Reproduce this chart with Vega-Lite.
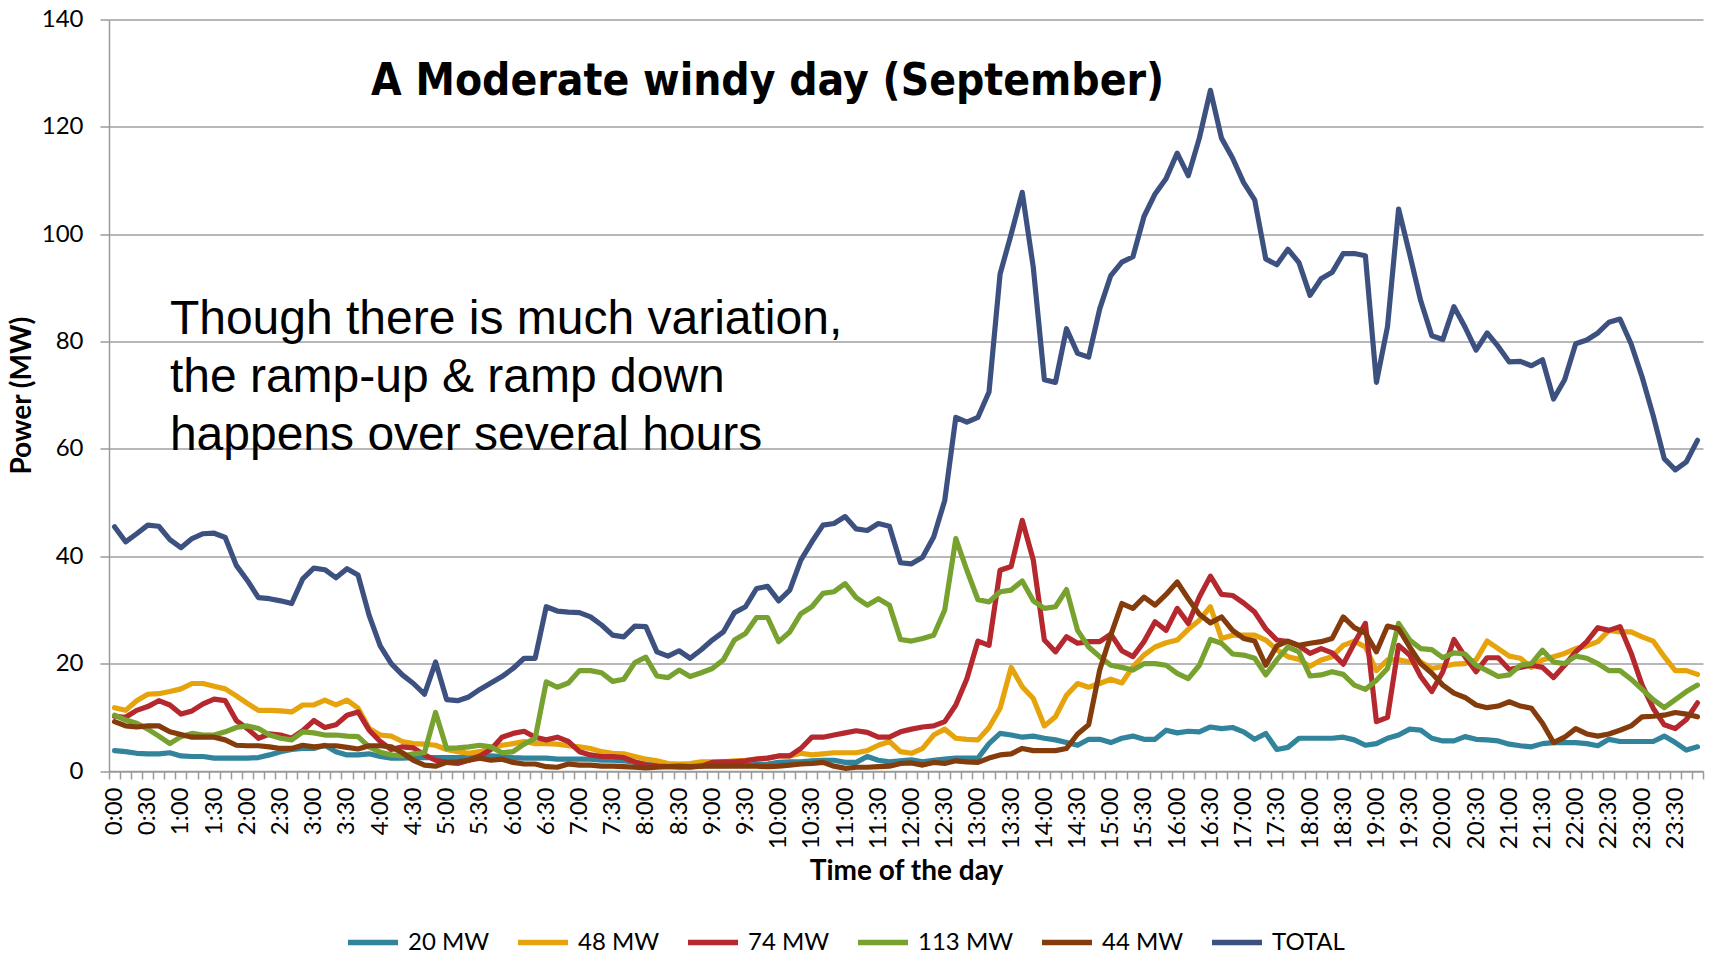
{
  "$schema": "https://vega.github.io/schema/vega-lite/v6.json",
  "width": 1594,
  "height": 751.5,
  "autosize": {"type": "none"},
  "padding": {"left": 109, "top": 19.5, "right": 11, "bottom": 184},
  "background": "white",
  "config": {"view": {"stroke": null}},
  "data": {"name": "main", "values": [
    {"time":"0:00","20 MW":3.8,"48 MW":11.8,"74 MW":10.2,"113 MW":10.4,"44 MW":9.2,"TOTAL":45.5},
    {"time":"0:10","20 MW":3.6,"48 MW":11.3,"74 MW":10.0,"113 MW":9.5,"44 MW":8.4,"TOTAL":42.7},
    {"time":"0:20","20 MW":3.3,"48 MW":13.1,"74 MW":11.3,"113 MW":8.9,"44 MW":8.2,"TOTAL":44.2},
    {"time":"0:30","20 MW":3.2,"48 MW":14.3,"74 MW":12.0,"113 MW":7.8,"44 MW":8.4,"TOTAL":45.8},
    {"time":"0:40","20 MW":3.2,"48 MW":14.4,"74 MW":13.1,"113 MW":6.5,"44 MW":8.4,"TOTAL":45.6},
    {"time":"0:50","20 MW":3.4,"48 MW":14.8,"74 MW":12.3,"113 MW":5.1,"44 MW":7.3,"TOTAL":43.1},
    {"time":"1:00","20 MW":2.8,"48 MW":15.3,"74 MW":10.6,"113 MW":6.4,"44 MW":6.8,"TOTAL":41.6},
    {"time":"1:10","20 MW":2.7,"48 MW":16.3,"74 MW":11.2,"113 MW":7.0,"44 MW":6.3,"TOTAL":43.3},
    {"time":"1:20","20 MW":2.7,"48 MW":16.3,"74 MW":12.5,"113 MW":6.7,"44 MW":6.3,"TOTAL":44.2},
    {"time":"1:30","20 MW":2.4,"48 MW":15.8,"74 MW":13.4,"113 MW":6.7,"44 MW":6.3,"TOTAL":44.3},
    {"time":"1:40","20 MW":2.4,"48 MW":15.3,"74 MW":13.1,"113 MW":7.3,"44 MW":5.8,"TOTAL":43.5},
    {"time":"1:50","20 MW":2.4,"48 MW":14.0,"74 MW":9.4,"113 MW":8.1,"44 MW":4.8,"TOTAL":38.3},
    {"time":"2:00","20 MW":2.4,"48 MW":12.6,"74 MW":7.9,"113 MW":8.4,"44 MW":4.7,"TOTAL":35.5},
    {"time":"2:10","20 MW":2.5,"48 MW":11.3,"74 MW":6.1,"113 MW":7.9,"44 MW":4.7,"TOTAL":32.3},
    {"time":"2:20","20 MW":3.0,"48 MW":11.3,"74 MW":6.9,"113 MW":6.7,"44 MW":4.5,"TOTAL":32.1},
    {"time":"2:30","20 MW":3.6,"48 MW":11.2,"74 MW":6.7,"113 MW":6.1,"44 MW":4.2,"TOTAL":31.7},
    {"time":"2:40","20 MW":4.0,"48 MW":11.0,"74 MW":6.1,"113 MW":5.8,"44 MW":4.2,"TOTAL":31.2},
    {"time":"2:50","20 MW":4.2,"48 MW":12.3,"74 MW":7.5,"113 MW":7.3,"44 MW":4.8,"TOTAL":35.8},
    {"time":"3:00","20 MW":4.2,"48 MW":12.3,"74 MW":9.4,"113 MW":7.1,"44 MW":4.5,"TOTAL":37.8},
    {"time":"3:10","20 MW":4.8,"48 MW":13.2,"74 MW":8.1,"113 MW":6.7,"44 MW":4.7,"TOTAL":37.5},
    {"time":"3:20","20 MW":3.6,"48 MW":12.3,"74 MW":8.6,"113 MW":6.7,"44 MW":4.7,"TOTAL":36.0},
    {"time":"3:30","20 MW":3.0,"48 MW":13.2,"74 MW":10.4,"113 MW":6.5,"44 MW":4.4,"TOTAL":37.7},
    {"time":"3:40","20 MW":3.0,"48 MW":11.7,"74 MW":11.0,"113 MW":6.4,"44 MW":4.1,"TOTAL":36.5},
    {"time":"3:50","20 MW":3.2,"48 MW":7.9,"74 MW":7.6,"113 MW":4.5,"44 MW":4.7,"TOTAL":29.0},
    {"time":"4:00","20 MW":2.7,"48 MW":6.7,"74 MW":5.5,"113 MW":3.5,"44 MW":4.7,"TOTAL":23.3},
    {"time":"4:10","20 MW":2.4,"48 MW":6.5,"74 MW":4.0,"113 MW":3.0,"44 MW":4.5,"TOTAL":20.0},
    {"time":"4:20","20 MW":2.4,"48 MW":5.5,"74 MW":4.5,"113 MW":2.8,"44 MW":3.4,"TOTAL":17.9},
    {"time":"4:30","20 MW":2.5,"48 MW":5.1,"74 MW":4.3,"113 MW":3.2,"44 MW":2.0,"TOTAL":16.3},
    {"time":"4:40","20 MW":2.5,"48 MW":5.0,"74 MW":3.0,"113 MW":3.4,"44 MW":1.1,"TOTAL":14.3},
    {"time":"4:50","20 MW":2.5,"48 MW":4.8,"74 MW":2.0,"113 MW":10.9,"44 MW":0.9,"TOTAL":20.3},
    {"time":"5:00","20 MW":2.5,"48 MW":4.0,"74 MW":1.6,"113 MW":4.2,"44 MW":1.6,"TOTAL":13.3},
    {"time":"5:10","20 MW":2.5,"48 MW":3.6,"74 MW":1.4,"113 MW":4.3,"44 MW":1.7,"TOTAL":13.1},
    {"time":"5:20","20 MW":2.7,"48 MW":3.3,"74 MW":2.0,"113 MW":4.5,"44 MW":2.0,"TOTAL":13.8},
    {"time":"5:30","20 MW":2.7,"48 MW":3.6,"74 MW":2.8,"113 MW":4.8,"44 MW":2.4,"TOTAL":15.2},
    {"time":"5:40","20 MW":2.8,"48 MW":4.2,"74 MW":4.0,"113 MW":4.5,"44 MW":2.0,"TOTAL":16.4},
    {"time":"5:50","20 MW":2.7,"48 MW":4.8,"74 MW":6.3,"113 MW":3.4,"44 MW":2.2,"TOTAL":17.6},
    {"time":"6:00","20 MW":2.5,"48 MW":5.1,"74 MW":7.0,"113 MW":3.6,"44 MW":1.6,"TOTAL":19.1},
    {"time":"6:10","20 MW":2.4,"48 MW":5.5,"74 MW":7.4,"113 MW":5.0,"44 MW":1.3,"TOTAL":21.0},
    {"time":"6:20","20 MW":2.4,"48 MW":5.1,"74 MW":6.3,"113 MW":6.1,"44 MW":1.3,"TOTAL":21.0},
    {"time":"6:30","20 MW":2.4,"48 MW":5.1,"74 MW":5.8,"113 MW":16.6,"44 MW":0.8,"TOTAL":30.6},
    {"time":"6:40","20 MW":2.2,"48 MW":5.0,"74 MW":6.3,"113 MW":15.6,"44 MW":0.7,"TOTAL":29.8},
    {"time":"6:50","20 MW":2.2,"48 MW":4.7,"74 MW":5.5,"113 MW":16.4,"44 MW":1.3,"TOTAL":29.6},
    {"time":"7:00","20 MW":2.2,"48 MW":4.5,"74 MW":3.6,"113 MW":18.7,"44 MW":1.1,"TOTAL":29.5},
    {"time":"7:10","20 MW":2.2,"48 MW":4.2,"74 MW":3.0,"113 MW":18.7,"44 MW":1.1,"TOTAL":28.7},
    {"time":"7:20","20 MW":2.0,"48 MW":3.6,"74 MW":2.7,"113 MW":18.3,"44 MW":0.9,"TOTAL":27.2},
    {"time":"7:30","20 MW":2.0,"48 MW":3.3,"74 MW":2.7,"113 MW":16.7,"44 MW":0.9,"TOTAL":25.3},
    {"time":"7:40","20 MW":1.9,"48 MW":3.2,"74 MW":2.5,"113 MW":17.1,"44 MW":0.8,"TOTAL":25.0},
    {"time":"7:50","20 MW":1.6,"48 MW":2.7,"74 MW":1.7,"113 MW":20.2,"44 MW":0.7,"TOTAL":27.0},
    {"time":"8:00","20 MW":1.3,"48 MW":2.2,"74 MW":1.1,"113 MW":21.2,"44 MW":0.6,"TOTAL":26.9},
    {"time":"8:10","20 MW":1.2,"48 MW":1.9,"74 MW":0.9,"113 MW":17.7,"44 MW":0.7,"TOTAL":22.2},
    {"time":"8:20","20 MW":1.1,"48 MW":1.4,"74 MW":0.8,"113 MW":17.4,"44 MW":0.8,"TOTAL":21.4},
    {"time":"8:30","20 MW":1.1,"48 MW":1.3,"74 MW":0.7,"113 MW":18.8,"44 MW":0.9,"TOTAL":22.4},
    {"time":"8:40","20 MW":1.0,"48 MW":1.4,"74 MW":0.7,"113 MW":17.6,"44 MW":0.8,"TOTAL":21.0},
    {"time":"8:50","20 MW":1.0,"48 MW":1.7,"74 MW":0.9,"113 MW":18.3,"44 MW":0.9,"TOTAL":22.6},
    {"time":"9:00","20 MW":1.0,"48 MW":1.7,"74 MW":1.6,"113 MW":19.1,"44 MW":0.9,"TOTAL":24.4},
    {"time":"9:10","20 MW":1.0,"48 MW":1.7,"74 MW":1.7,"113 MW":20.7,"44 MW":0.9,"TOTAL":25.9},
    {"time":"9:20","20 MW":1.1,"48 MW":1.9,"74 MW":1.7,"113 MW":24.4,"44 MW":0.9,"TOTAL":29.5},
    {"time":"9:30","20 MW":1.1,"48 MW":2.0,"74 MW":1.9,"113 MW":25.6,"44 MW":0.9,"TOTAL":30.6},
    {"time":"9:40","20 MW":1.2,"48 MW":2.2,"74 MW":2.2,"113 MW":28.6,"44 MW":0.9,"TOTAL":34.0},
    {"time":"9:50","20 MW":1.3,"48 MW":2.4,"74 MW":2.4,"113 MW":28.6,"44 MW":0.8,"TOTAL":34.4},
    {"time":"10:00","20 MW":1.6,"48 MW":2.8,"74 MW":2.8,"113 MW":24.1,"44 MW":0.9,"TOTAL":31.7},
    {"time":"10:10","20 MW":1.7,"48 MW":2.8,"74 MW":2.8,"113 MW":25.9,"44 MW":1.1,"TOTAL":33.7},
    {"time":"10:20","20 MW":1.7,"48 MW":3.3,"74 MW":4.2,"113 MW":29.3,"44 MW":1.3,"TOTAL":39.3},
    {"time":"10:30","20 MW":1.9,"48 MW":3.0,"74 MW":6.3,"113 MW":30.6,"44 MW":1.4,"TOTAL":42.7},
    {"time":"10:40","20 MW":2.0,"48 MW":3.2,"74 MW":6.3,"113 MW":33.1,"44 MW":1.6,"TOTAL":45.8},
    {"time":"10:50","20 MW":2.0,"48 MW":3.4,"74 MW":6.7,"113 MW":33.4,"44 MW":0.9,"TOTAL":46.1},
    {"time":"11:00","20 MW":1.6,"48 MW":3.4,"74 MW":7.1,"113 MW":34.9,"44 MW":0.5,"TOTAL":47.4},
    {"time":"11:10","20 MW":1.6,"48 MW":3.4,"74 MW":7.5,"113 MW":32.3,"44 MW":0.7,"TOTAL":45.1},
    {"time":"11:20","20 MW":2.7,"48 MW":3.8,"74 MW":7.2,"113 MW":30.9,"44 MW":0.7,"TOTAL":44.8},
    {"time":"11:30","20 MW":2.0,"48 MW":4.8,"74 MW":6.3,"113 MW":32.1,"44 MW":0.8,"TOTAL":46.1},
    {"time":"11:40","20 MW":1.7,"48 MW":5.5,"74 MW":6.3,"113 MW":30.9,"44 MW":0.9,"TOTAL":45.6},
    {"time":"11:50","20 MW":1.9,"48 MW":3.6,"74 MW":7.3,"113 MW":24.5,"44 MW":1.4,"TOTAL":38.8},
    {"time":"12:00","20 MW":2.1,"48 MW":3.3,"74 MW":7.8,"113 MW":24.2,"44 MW":1.5,"TOTAL":38.6},
    {"time":"12:10","20 MW":1.7,"48 MW":4.2,"74 MW":8.2,"113 MW":24.7,"44 MW":1.1,"TOTAL":39.8},
    {"time":"12:20","20 MW":2.0,"48 MW":6.7,"74 MW":8.4,"113 MW":25.3,"44 MW":1.6,"TOTAL":43.6},
    {"time":"12:30","20 MW":2.2,"48 MW":7.8,"74 MW":9.2,"113 MW":30.0,"44 MW":1.4,"TOTAL":50.4},
    {"time":"12:40","20 MW":2.4,"48 MW":6.1,"74 MW":12.3,"113 MW":43.3,"44 MW":1.9,"TOTAL":65.9},
    {"time":"12:50","20 MW":2.4,"48 MW":5.9,"74 MW":17.2,"113 MW":37.4,"44 MW":1.7,"TOTAL":65.0},
    {"time":"13:00","20 MW":2.4,"48 MW":5.8,"74 MW":24.2,"113 MW":31.9,"44 MW":1.6,"TOTAL":65.9},
    {"time":"13:10","20 MW":5.1,"48 MW":8.1,"74 MW":23.4,"113 MW":31.5,"44 MW":2.4,"TOTAL":70.6},
    {"time":"13:20","20 MW":7.0,"48 MW":11.7,"74 MW":37.4,"113 MW":33.4,"44 MW":3.0,"TOTAL":92.6},
    {"time":"13:30","20 MW":6.7,"48 MW":19.3,"74 MW":38.1,"113 MW":33.7,"44 MW":3.2,"TOTAL":100.0},
    {"time":"13:40","20 MW":6.3,"48 MW":15.7,"74 MW":46.7,"113 MW":35.4,"44 MW":4.2,"TOTAL":107.8},
    {"time":"13:50","20 MW":6.5,"48 MW":13.5,"74 MW":39.3,"113 MW":31.7,"44 MW":3.8,"TOTAL":93.8},
    {"time":"14:00","20 MW":6.1,"48 MW":8.4,"74 MW":24.4,"113 MW":30.3,"44 MW":3.8,"TOTAL":72.9},
    {"time":"14:10","20 MW":5.8,"48 MW":10.1,"74 MW":22.2,"113 MW":30.6,"44 MW":3.8,"TOTAL":72.4},
    {"time":"14:20","20 MW":5.3,"48 MW":14.1,"74 MW":25.0,"113 MW":33.8,"44 MW":4.2,"TOTAL":82.4},
    {"time":"14:30","20 MW":4.8,"48 MW":16.3,"74 MW":23.8,"113 MW":26.2,"44 MW":6.9,"TOTAL":77.8},
    {"time":"14:40","20 MW":5.9,"48 MW":15.6,"74 MW":24.1,"113 MW":23.1,"44 MW":8.6,"TOTAL":77.1},
    {"time":"14:50","20 MW":5.9,"48 MW":16.3,"74 MW":24.1,"113 MW":21.3,"44 MW":18.8,"TOTAL":86.1},
    {"time":"15:00","20 MW":5.3,"48 MW":17.1,"74 MW":25.5,"113 MW":19.7,"44 MW":25.3,"TOTAL":92.3},
    {"time":"15:10","20 MW":6.1,"48 MW":16.4,"74 MW":22.4,"113 MW":19.3,"44 MW":31.2,"TOTAL":94.8},
    {"time":"15:20","20 MW":6.5,"48 MW":19.4,"74 MW":21.3,"113 MW":18.8,"44 MW":30.3,"TOTAL":95.8},
    {"time":"15:30","20 MW":5.9,"48 MW":21.6,"74 MW":24.1,"113 MW":20.0,"44 MW":32.4,"TOTAL":103.3},
    {"time":"15:40","20 MW":5.9,"48 MW":23.1,"74 MW":27.8,"113 MW":20.0,"44 MW":30.9,"TOTAL":107.5},
    {"time":"15:50","20 MW":7.6,"48 MW":23.9,"74 MW":26.2,"113 MW":19.7,"44 MW":32.9,"TOTAL":110.4},
    {"time":"16:00","20 MW":7.1,"48 MW":24.4,"74 MW":30.3,"113 MW":18.2,"44 MW":35.2,"TOTAL":115.1},
    {"time":"16:10","20 MW":7.4,"48 MW":26.4,"74 MW":27.5,"113 MW":17.2,"44 MW":32.1,"TOTAL":110.9},
    {"time":"16:20","20 MW":7.3,"48 MW":28.1,"74 MW":32.4,"113 MW":19.7,"44 MW":29.2,"TOTAL":117.9},
    {"time":"16:30","20 MW":8.2,"48 MW":30.6,"74 MW":36.3,"113 MW":24.5,"44 MW":27.6,"TOTAL":126.8},
    {"time":"16:40","20 MW":7.9,"48 MW":24.7,"74 MW":32.9,"113 MW":23.8,"44 MW":28.7,"TOTAL":117.9},
    {"time":"16:50","20 MW":8.1,"48 MW":25.3,"74 MW":32.7,"113 MW":21.8,"44 MW":26.2,"TOTAL":114.2},
    {"time":"17:00","20 MW":7.3,"48 MW":25.3,"74 MW":31.3,"113 MW":21.6,"44 MW":24.7,"TOTAL":109.6},
    {"time":"17:10","20 MW":5.9,"48 MW":25.3,"74 MW":29.6,"113 MW":21.0,"44 MW":24.2,"TOTAL":106.4},
    {"time":"17:20","20 MW":7.0,"48 MW":24.4,"74 MW":26.5,"113 MW":17.9,"44 MW":19.7,"TOTAL":95.4},
    {"time":"17:30","20 MW":4.0,"48 MW":22.6,"74 MW":24.4,"113 MW":20.7,"44 MW":23.3,"TOTAL":94.3},
    {"time":"17:40","20 MW":4.4,"48 MW":21.3,"74 MW":24.1,"113 MW":23.1,"44 MW":24.2,"TOTAL":97.2},
    {"time":"17:50","20 MW":6.1,"48 MW":20.8,"74 MW":23.3,"113 MW":22.2,"44 MW":23.4,"TOTAL":94.7},
    {"time":"18:00","20 MW":6.1,"48 MW":19.5,"74 MW":21.9,"113 MW":17.7,"44 MW":23.8,"TOTAL":88.6},
    {"time":"18:10","20 MW":6.1,"48 MW":20.7,"74 MW":22.8,"113 MW":17.9,"44 MW":24.1,"TOTAL":91.7},
    {"time":"18:20","20 MW":6.1,"48 MW":21.3,"74 MW":22.0,"113 MW":18.5,"44 MW":24.7,"TOTAL":92.9},
    {"time":"18:30","20 MW":6.3,"48 MW":23.4,"74 MW":19.9,"113 MW":18.0,"44 MW":28.7,"TOTAL":96.4},
    {"time":"18:40","20 MW":5.8,"48 MW":24.2,"74 MW":23.8,"113 MW":16.0,"44 MW":26.7,"TOTAL":96.4},
    {"time":"18:50","20 MW":4.8,"48 MW":23.1,"74 MW":27.5,"113 MW":15.2,"44 MW":25.7,"TOTAL":96.0},
    {"time":"19:00","20 MW":5.1,"48 MW":18.7,"74 MW":9.2,"113 MW":16.9,"44 MW":22.2,"TOTAL":72.4},
    {"time":"19:10","20 MW":6.1,"48 MW":20.7,"74 MW":10.0,"113 MW":19.1,"44 MW":27.0,"TOTAL":82.8},
    {"time":"19:20","20 MW":6.7,"48 MW":20.7,"74 MW":23.4,"113 MW":27.5,"44 MW":26.5,"TOTAL":104.7},
    {"time":"19:30","20 MW":7.8,"48 MW":20.3,"74 MW":21.6,"113 MW":24.4,"44 MW":23.1,"TOTAL":96.3},
    {"time":"19:40","20 MW":7.6,"48 MW":20.3,"74 MW":17.6,"113 MW":22.8,"44 MW":20.0,"TOTAL":87.6},
    {"time":"19:50","20 MW":6.1,"48 MW":19.1,"74 MW":14.8,"113 MW":22.6,"44 MW":18.2,"TOTAL":81.1},
    {"time":"20:00","20 MW":5.6,"48 MW":19.5,"74 MW":18.5,"113 MW":21.1,"44 MW":16.0,"TOTAL":80.4},
    {"time":"20:10","20 MW":5.6,"48 MW":19.9,"74 MW":24.5,"113 MW":22.0,"44 MW":14.5,"TOTAL":86.5},
    {"time":"20:20","20 MW":6.4,"48 MW":20.0,"74 MW":21.3,"113 MW":21.8,"44 MW":13.7,"TOTAL":82.7},
    {"time":"20:30","20 MW":5.9,"48 MW":20.7,"74 MW":18.5,"113 MW":19.7,"44 MW":12.3,"TOTAL":78.4},
    {"time":"20:40","20 MW":5.8,"48 MW":24.2,"74 MW":21.1,"113 MW":18.7,"44 MW":11.8,"TOTAL":81.6},
    {"time":"20:50","20 MW":5.6,"48 MW":22.8,"74 MW":21.1,"113 MW":17.6,"44 MW":12.1,"TOTAL":79.1},
    {"time":"21:00","20 MW":5.0,"48 MW":21.4,"74 MW":18.9,"113 MW":17.9,"44 MW":12.9,"TOTAL":76.2},
    {"time":"21:10","20 MW":4.7,"48 MW":21.0,"74 MW":19.3,"113 MW":19.7,"44 MW":12.1,"TOTAL":76.3},
    {"time":"21:20","20 MW":4.5,"48 MW":19.3,"74 MW":19.7,"113 MW":20.0,"44 MW":11.7,"TOTAL":75.5},
    {"time":"21:30","20 MW":5.1,"48 MW":20.7,"74 MW":19.3,"113 MW":22.5,"44 MW":8.9,"TOTAL":76.6},
    {"time":"21:40","20 MW":5.3,"48 MW":21.3,"74 MW":17.4,"113 MW":20.3,"44 MW":5.3,"TOTAL":69.3},
    {"time":"21:50","20 MW":5.3,"48 MW":21.9,"74 MW":19.7,"113 MW":20.0,"44 MW":6.3,"TOTAL":72.9},
    {"time":"22:00","20 MW":5.3,"48 MW":22.8,"74 MW":22.2,"113 MW":21.4,"44 MW":7.9,"TOTAL":79.6},
    {"time":"22:10","20 MW":5.1,"48 MW":23.3,"74 MW":24.1,"113 MW":21.0,"44 MW":6.9,"TOTAL":80.3},
    {"time":"22:20","20 MW":4.7,"48 MW":24.1,"74 MW":26.7,"113 MW":20.0,"44 MW":6.5,"TOTAL":81.6},
    {"time":"22:30","20 MW":5.9,"48 MW":26.2,"74 MW":26.2,"113 MW":18.7,"44 MW":6.9,"TOTAL":83.6},
    {"time":"22:40","20 MW":5.5,"48 MW":25.9,"74 MW":26.9,"113 MW":18.7,"44 MW":7.6,"TOTAL":84.2},
    {"time":"22:50","20 MW":5.5,"48 MW":25.9,"74 MW":22.0,"113 MW":17.1,"44 MW":8.4,"TOTAL":79.6},
    {"time":"23:00","20 MW":5.5,"48 MW":25.0,"74 MW":16.0,"113 MW":15.2,"44 MW":10.1,"TOTAL":73.4},
    {"time":"23:10","20 MW":5.5,"48 MW":24.2,"74 MW":11.7,"113 MW":13.3,"44 MW":10.2,"TOTAL":66.2},
    {"time":"23:20","20 MW":6.5,"48 MW":21.3,"74 MW":8.6,"113 MW":11.8,"44 MW":10.4,"TOTAL":58.2},
    {"time":"23:30","20 MW":5.3,"48 MW":18.7,"74 MW":7.9,"113 MW":13.3,"44 MW":10.9,"TOTAL":56.1},
    {"time":"23:40","20 MW":3.9,"48 MW":18.7,"74 MW":9.6,"113 MW":14.8,"44 MW":10.6,"TOTAL":57.6},
    {"time":"23:50","20 MW":4.5,"48 MW":18.0,"74 MW":12.7,"113 MW":16.0,"44 MW":10.1,"TOTAL":61.6}
  ]},
  "encoding": {
    "x": {
      "field": "time", "type": "ordinal", "sort": null,
      "scale": {"type": "band", "paddingInner": 0, "paddingOuter": 0, "domain": ["0:00","0:10","0:20","0:30","0:40","0:50","1:00","1:10","1:20","1:30","1:40","1:50","2:00","2:10","2:20","2:30","2:40","2:50","3:00","3:10","3:20","3:30","3:40","3:50","4:00","4:10","4:20","4:30","4:40","4:50","5:00","5:10","5:20","5:30","5:40","5:50","6:00","6:10","6:20","6:30","6:40","6:50","7:00","7:10","7:20","7:30","7:40","7:50","8:00","8:10","8:20","8:30","8:40","8:50","9:00","9:10","9:20","9:30","9:40","9:50","10:00","10:10","10:20","10:30","10:40","10:50","11:00","11:10","11:20","11:30","11:40","11:50","12:00","12:10","12:20","12:30","12:40","12:50","13:00","13:10","13:20","13:30","13:40","13:50","14:00","14:10","14:20","14:30","14:40","14:50","15:00","15:10","15:20","15:30","15:40","15:50","16:00","16:10","16:20","16:30","16:40","16:50","17:00","17:10","17:20","17:30","17:40","17:50","18:00","18:10","18:20","18:30","18:40","18:50","19:00","19:10","19:20","19:30","19:40","19:50","20:00","20:10","20:20","20:30","20:40","20:50","21:00","21:10","21:20","21:30","21:40","21:50","22:00","22:10","22:20","22:30","22:40","22:50","23:00","23:10","23:20","23:30","23:40","23:50"]},
      "axis": {
        "title": "Time of the day",
        "titleFont": "Lato", "titleFontSize": 28, "titleFontWeight": "bold", "titleColor": "#000000",
        "titleY": 100, "titleBaseline": "middle",
        "labelExpr": "(indexof(datum.label, ':00') >= 0 || indexof(datum.label, ':30') >= 0) ? datum.label : ''",
        "labelAngle": -90, "labelFont": "Lato", "labelFontSize": 24, "labelColor": "#000000",
        "labelPadding": 8, "labelOverlap": false, "labelBound": false, "labelFlush": false,
        "tickBand": "extent", "ticks": true, "tickSize": 8, "tickColor": "#9a9a9a", "tickWidth": 1.5,
        "domain": true, "domainColor": "#9a9a9a", "domainWidth": 1.5,
        "grid": false
      }
    },
    "y": {
      "field": "value", "type": "quantitative",
      "scale": {"domain": [0, 140], "nice": false, "zero": true},
      "axis": {
        "title": "Power (MW)",
        "titleFont": "Lato", "titleFontSize": 28, "titleFontWeight": "bold", "titleColor": "#000000",
        "titleX": -87, "titleBaseline": "middle",
        "values": [0, 20, 40, 60, 80, 100, 120, 140],
        "labelFont": "Lato", "labelFontSize": 24, "labelColor": "#000000", "labelPadding": 17,
        "ticks": true, "tickSize": 9, "tickColor": "#9a9a9a", "tickWidth": 1.5,
        "domain": true, "domainColor": "#9a9a9a", "domainWidth": 1.5,
        "grid": true, "gridColor": "#a0a0a0", "gridWidth": 1.5
      }
    }
  },
  "layer": [
    {
      "transform": [{"fold": ["20 MW", "48 MW", "74 MW", "113 MW", "44 MW", "TOTAL"], "as": ["series", "value"]}],
      "mark": {"type": "line", "strokeWidth": 5.2, "strokeJoin": "round", "strokeCap": "round"},
      "encoding": {
        "color": {
          "field": "series", "type": "nominal",
          "scale": {"domain": ["20 MW", "48 MW", "74 MW", "113 MW", "44 MW", "TOTAL"],
                    "range": ["#31849b", "#e6a30c", "#b5282e", "#77a22f", "#843c0c", "#3d5181"]},
          "legend": {
            "title": null, "orient": "none", "direction": "horizontal",
            "legendX": 236, "legendY": 895,
            "symbolType": "stroke", "symbolSize": 2500, "symbolStrokeWidth": 5.5,
            "labelFont": "Lato", "labelFontSize": 24, "labelColor": "#000000",
            "labelOffset": 7, "columnPadding": 17
          }
        }
      }
    },
    {
      "data": {"values": [{"time": "9:50", "value": 125.9, "label": "A Moderate windy day (September)"}]},
      "mark": {"type": "text", "align": "center", "baseline": "alphabetic", "font": "DejaVu Sans Condensed, DejaVu Sans", "fontSize": 44, "fontWeight": "bold", "color": "#000000"},
      "encoding": {"text": {"field": "label", "type": "nominal"}}
    },
    {
      "data": {"values": [{"time": "0:50", "value": 81.5, "label": "Though there is much variation,\nthe ramp-up & ramp down\nhappens over several hours"}]},
      "mark": {"type": "text", "align": "left", "baseline": "alphabetic", "lineBreak": "\n", "lineHeight": 58, "font": "Liberation Sans", "fontSize": 48, "color": "#000000"},
      "encoding": {"text": {"field": "label", "type": "nominal"}}
    }
  ]
}
